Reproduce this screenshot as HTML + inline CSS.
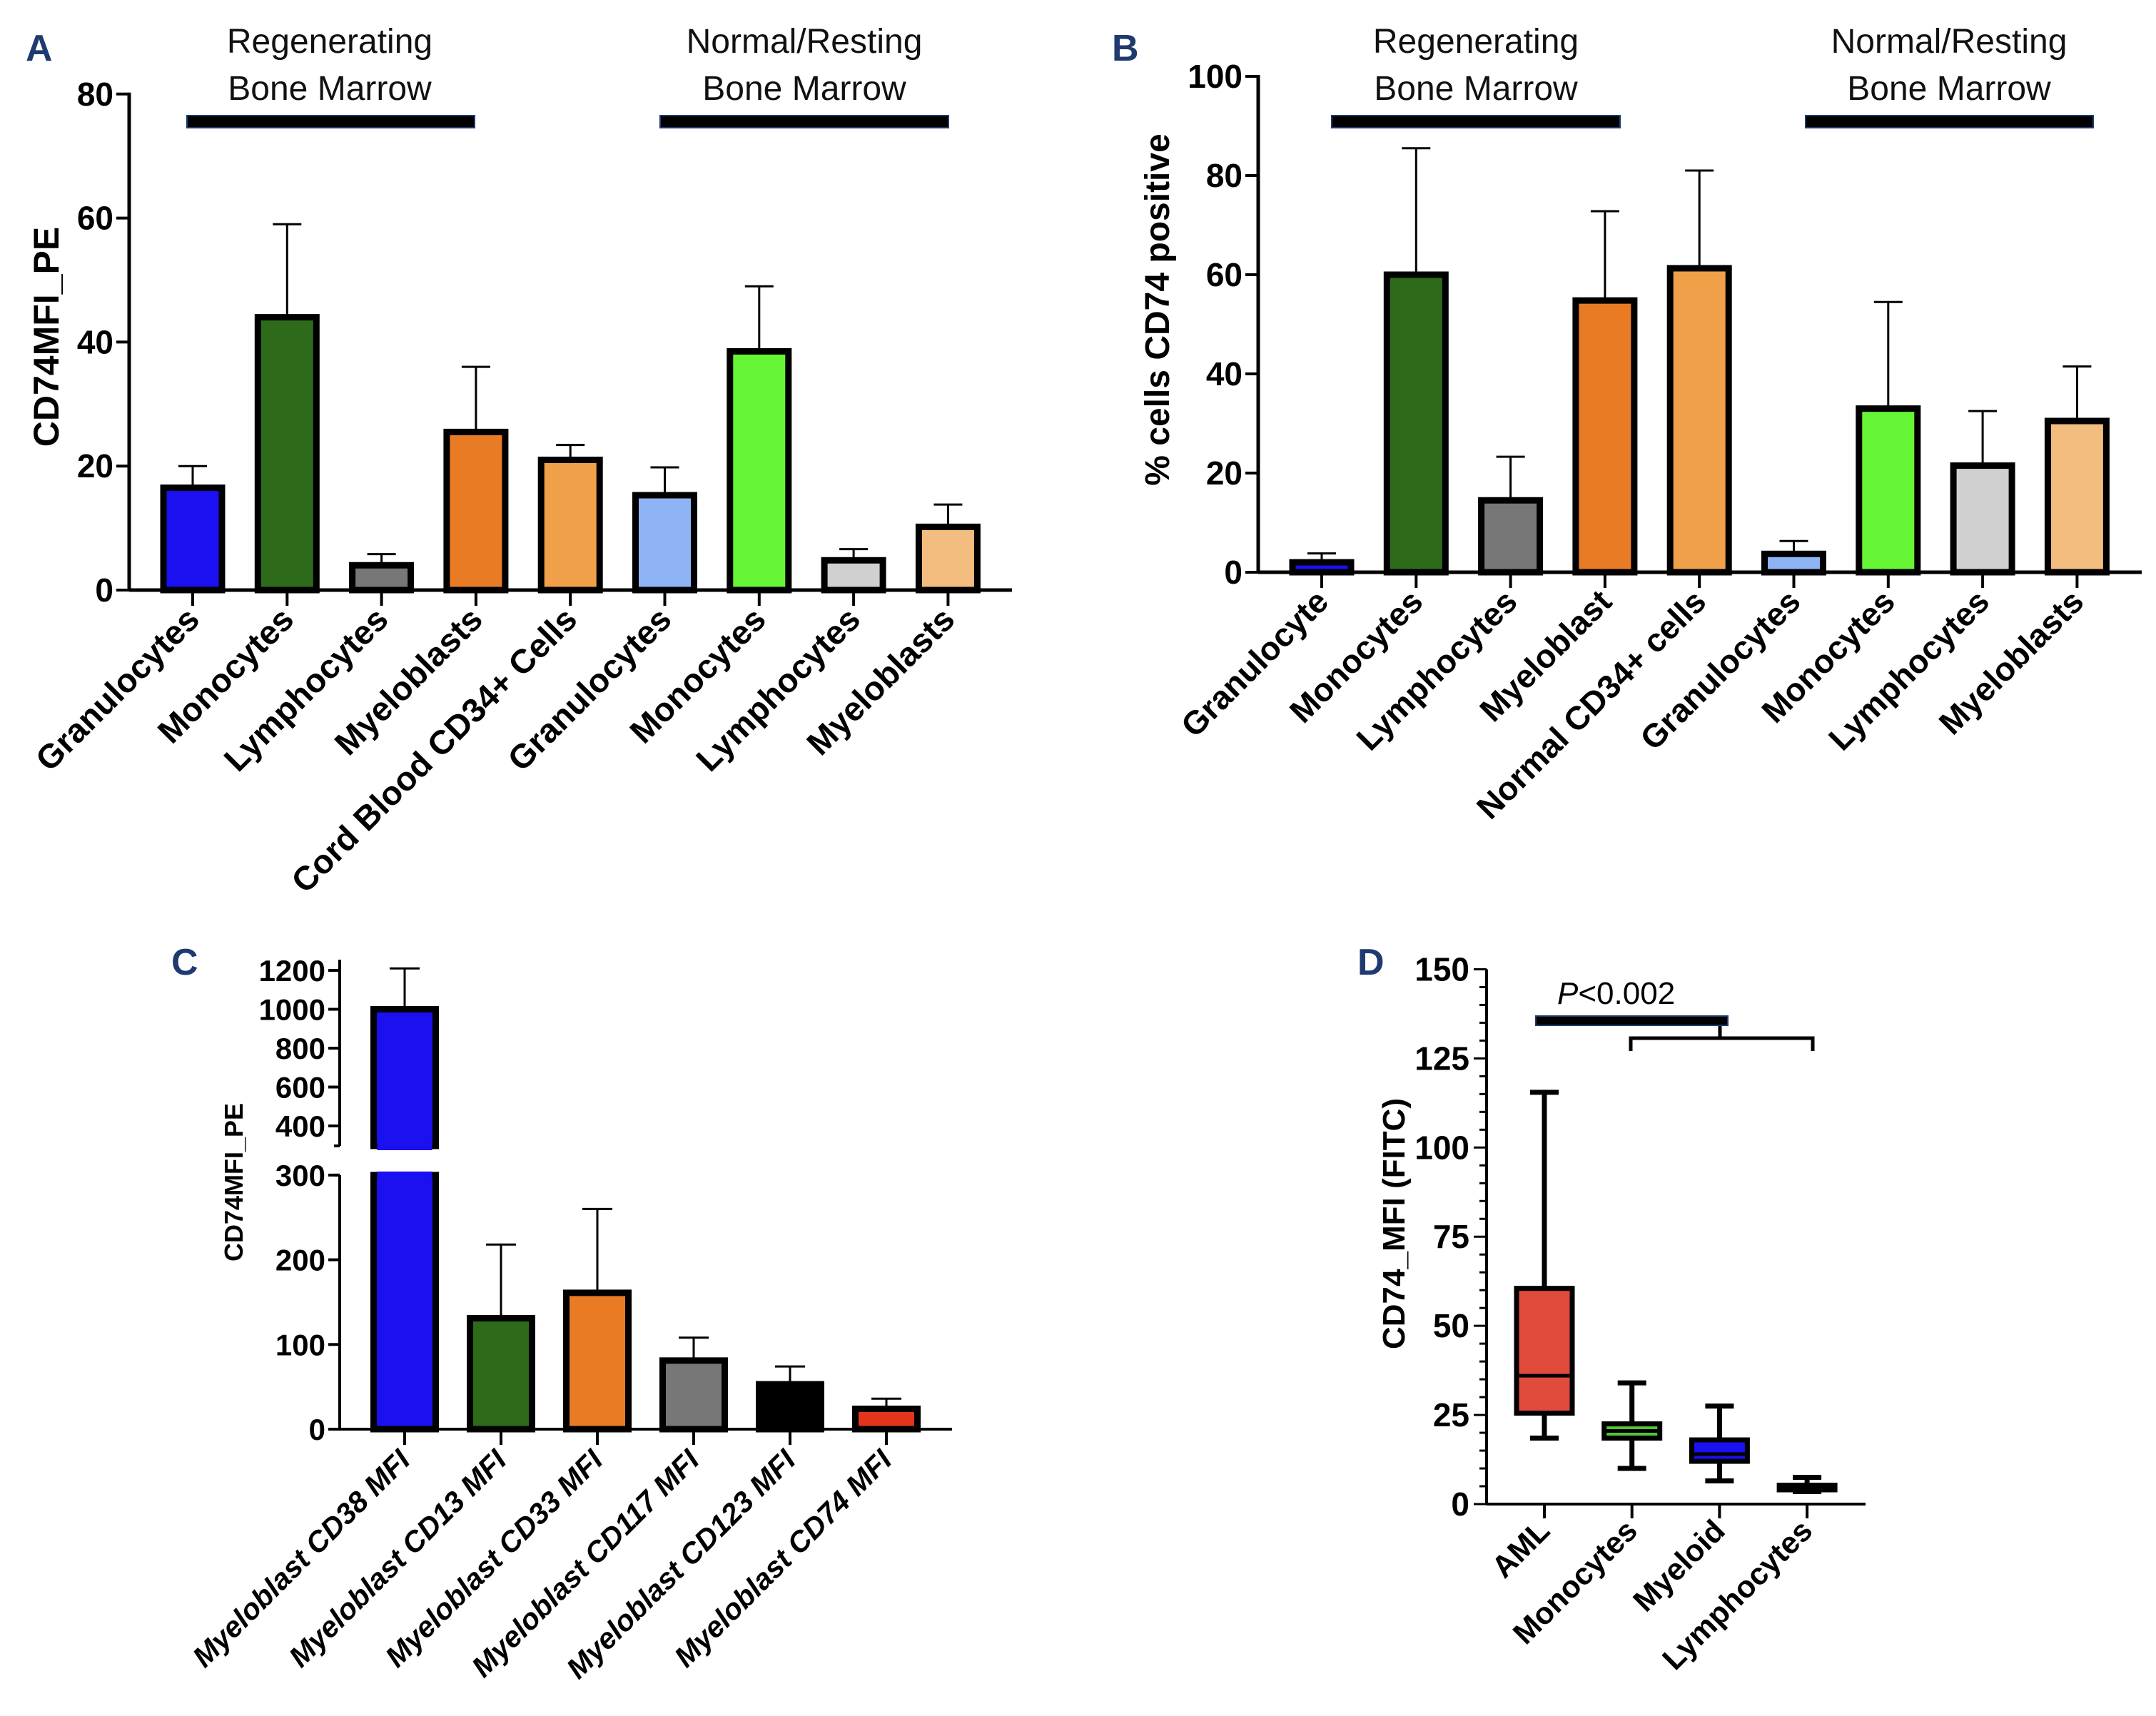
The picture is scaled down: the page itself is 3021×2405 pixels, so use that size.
<!DOCTYPE html>
<html><head><meta charset="utf-8"><style>
html,body{margin:0;padding:0;background:#fff;overflow:hidden}
svg{display:block}
text{font-family:"Liberation Sans",Arial,sans-serif}
</style></head><body>
<svg id="fig" width="3021" height="2405" viewBox="0 0 3021 2405" xmlns="http://www.w3.org/2000/svg"></svg>
<script>
// ---- Panel A data ----
const aCats=["Granulocytes","Monocytes","Lymphocytes","Myeloblasts","Cord Blood CD34+ Cells","Granulocytes","Monocytes","Lymphocytes","Myeloblasts"];
const aVals=[16.5,44,4,25.5,21,15.3,38.5,4.8,10.2];
const aErr=[20,59,5.8,36,23.4,19.8,49,6.6,13.8];
const aTicks=[0,20,40,60,80];
// ---- Panel B data ----
const bCats=["Granulocyte","Monocytes","Lymphocytes","Myeloblast","Normal CD34+ cells","Granulocytes","Monocytes","Lymphocytes","Myeloblasts"];
const bVals=[2,60,14.5,54.8,61.3,3.7,33,21.5,30.5];
const bErr=[3.8,85.5,23.3,72.8,81,6.3,54.5,32.5,41.5];
const bTicks=[0,20,40,60,80,100];
// ---- Panel C data ----
const cCats=["Myeloblast CD38 MFI","Myeloblast CD13 MFI","Myeloblast CD33 MFI","Myeloblast CD117 MFI","Myeloblast CD123 MFI","Myeloblast CD74 MFI"];
const cVals=[1000,131,161,81,53,24];
const cErr=[1210,218,260,108,74,36];
const cTicksLow=[0,100,200,300];
const cTicksHigh=[400,600,800,1000,1200];
// ---- Panel D data ----
const dCats=["AML","Monocytes","Myeloid","Lymphocytes"];
const dMin=[18.5,10,6.5,3.5];
const dQ1=[25.5,18.5,12,4];
const dMed=[36,20.5,14,4.7];
const dQ3=[60.5,22.5,18,5.3];
const dMax=[115.5,34,27.5,7.5];
const dTicks=[0,25,50,75,100,125,150];

const colors9=["#1a10f0","#2d6b1b","#777777","#e87b24","#f0a048","#8fb4f5","#66f535","#d0d0d0","#f2bd7e"];
const cColors=["#1a10f0","#2d6b1b","#e87b24","#777777","#000000","#e5341c"];
const dColors=["#e04b3c","#55c23a","#1a10f0","#000000"];

const NS="http://www.w3.org/2000/svg";
const svg=document.getElementById('fig');
function el(tag,attrs,parent,txt){const e=document.createElementNS(NS,tag);for(const k in attrs)e.setAttribute(k,attrs[k]);if(txt!==undefined)e.textContent=txt;(parent||svg).appendChild(e);return e;}
function grp(name){const g=el('g',{});return g;}

function panelLabel(t,x,y){const e=el('text',{x:x,y:y,'font-size':52,'font-weight':'bold',fill:'#1f3a70'},svg,t);}
function groupBar(g,text1,text2,x1,x2,y,cx,name){
  const b=el('rect',{x:x1,y:y,width:x2-x1,height:17,fill:'#000',stroke:'#1f3a70','stroke-width':2},g);
  
  const t1=el('text',{x:cx,y:74,'font-size':48,'text-anchor':'middle',fill:'#111'},g,text1);
  
  const t2=el('text',{x:cx,y:140,'font-size':48,'text-anchor':'middle',fill:'#111'},g,text2);
  
}

function barPanel(o){
  const g=grp(o.name);
  const y=v=>o.y0-(v-o.ymin)*o.pxPerUnit;
  const x=i=>o.x0c+i*o.step;
  el('line',{x1:o.ax,y1:o.y0,x2:o.ax,y2:y(o.ticks[o.ticks.length-1])-2,stroke:'#000','stroke-width':5},g);
  el('line',{x1:o.ax,y1:o.y0,x2:o.xend,y2:o.y0,stroke:'#000','stroke-width':5},g);
  o.ticks.forEach(t=>{
    el('line',{x1:o.ax-18,y1:y(t),x2:o.ax,y2:y(t),stroke:'#000','stroke-width':4},g);
    const tt=el('text',{x:o.ax-22,y:y(t)+16,'font-size':o.tfs,'font-weight':'bold','text-anchor':'end'},g,String(t));
    
  });
  const yt=el('text',{transform:`translate(${o.ytx},${o.yty}) rotate(-90)`,'font-size':o.ytfs,'font-weight':'bold','text-anchor':'middle'},g,o.ytitle);
  
  o.vals.forEach((v,i)=>{
    const cx=x(i),top=y(v),eb=y(o.err[i]);
    el('line',{x1:cx,y1:top,x2:cx,y2:eb,stroke:'#000','stroke-width':3},g);
    el('line',{x1:cx-20,y1:eb,x2:cx+20,y2:eb,stroke:'#000','stroke-width':3},g);
    const r=el('rect',{x:cx-o.bw/2,y:top,width:o.bw,height:o.y0-top,fill:o.colors[i],stroke:'#000','stroke-width':9},g);
    
    
    el('line',{x1:cx,y1:o.y0,x2:cx,y2:o.y0+22,stroke:'#000','stroke-width':4},g);
    const lt=el('text',{transform:`translate(${cx+12},${o.y0+44}) rotate(-45)`,'font-size':o.lfs,'font-weight':'bold','text-anchor':'end'},g,o.cats[i]);
    
  });
  return g;
}

// Panel A
panelLabel('A',36,85);
const gA=barPanel({name:'panel-a-chart',cats:aCats,vals:aVals,err:aErr,ticks:aTicks,colors:colors9,ax:181,y0:827,ymin:0,pxPerUnit:8.69,x0c:270,step:132.3,bw:82,xend:1418,tfs:46,ytitle:'CD74MFI_PE',ytx:82,yty:472,ytfs:50,lfs:47});
groupBar(gA,'Regenerating','Bone Marrow',262,665,162,462,'regenerating-group');
groupBar(gA,'Normal/Resting','Bone Marrow',925,1329,162,1127,'normal-group');

// Panel B
panelLabel('B',1558,85);
const gB=barPanel({name:'panel-b-chart',cats:bCats,vals:bVals,err:bErr,ticks:bTicks,colors:colors9,ax:1763,y0:802,ymin:0,pxPerUnit:6.95,x0c:1852,step:132.3,bw:82,xend:3001,tfs:46,ytitle:'% cells CD74 positive',ytx:1638,yty:434,ytfs:48,lfs:46});
groupBar(gB,'Regenerating','Bone Marrow',1866,2270,162,2068,'regenerating-group');
groupBar(gB,'Normal/Resting','Bone Marrow',2530,2933,162,2731,'normal-group');

// Panel C (broken axis)
panelLabel('C',240,1366);
(function(){
  const g=grp('panel-c-chart');
  const ax=476,y0=2003,xend=1334;
  const yLow=v=>y0-v*1.187;
  const yHigh=v=>1578-(v-400)*0.2725;
  const yBreakTop=1606,yBreakLow=yLow(300);
  const x=i=>567+i*135;
  el('line',{x1:ax,y1:y0,x2:ax,y2:yBreakLow,stroke:'#000','stroke-width':4},g);
  el('line',{x1:ax,y1:yBreakTop,x2:ax,y2:yHigh(1200)-15,stroke:'#000','stroke-width':4},g);
  el('line',{x1:ax-8,y1:yBreakTop,x2:ax,y2:yBreakTop,stroke:'#000','stroke-width':4},g);
  el('line',{x1:ax-8,y1:yBreakLow,x2:ax,y2:yBreakLow,stroke:'#000','stroke-width':4},g);
  el('line',{x1:ax,y1:y0,x2:xend,y2:y0,stroke:'#000','stroke-width':4},g);
  cTicksLow.forEach(t=>{el('line',{x1:ax-16,y1:yLow(t),x2:ax,y2:yLow(t),stroke:'#000','stroke-width':4},g);
    const tt=el('text',{x:ax-20,y:yLow(t)+15,'font-size':42,'font-weight':'bold','text-anchor':'end'},g,String(t));
    });
  cTicksHigh.forEach(t=>{el('line',{x1:ax-16,y1:yHigh(t),x2:ax,y2:yHigh(t),stroke:'#000','stroke-width':4},g);
    const tt=el('text',{x:ax-20,y:yHigh(t)+15,'font-size':42,'font-weight':'bold','text-anchor':'end'},g,String(t));
    });
  const yt=el('text',{transform:'translate(340,1657) rotate(-90)','font-size':36,'font-weight':'bold','text-anchor':'middle'},g,'CD74MFI_PE');
  
  const ymap=v=>v>300?(v>=400?yHigh(v):yBreakTop):yLow(v);
  cVals.forEach((v,i)=>{
    const cx=x(i),eb=ymap(cErr[i]),top=ymap(v),bw=87;
    el('line',{x1:cx,y1:top,x2:cx,y2:eb,stroke:'#000','stroke-width':3},g);
    el('line',{x1:cx-21,y1:eb,x2:cx+21,y2:eb,stroke:'#000','stroke-width':3},g);
    const name='bar-'+cCats[i].toLowerCase().replace(/[^a-z0-9]+/g,'-');
    if(v>300){
      const r1=el('rect',{x:cx-bw/2,y:top,width:bw,height:yBreakTop-top,fill:cColors[i],stroke:'#000','stroke-width':9},g);
      
      el('rect',{x:cx-bw/2+5,y:yBreakTop-6,width:bw-10,height:12,fill:cColors[i]},g);
      const r2=el('rect',{x:cx-bw/2,y:yBreakLow,width:bw,height:y0-yBreakLow,fill:cColors[i],stroke:'#000','stroke-width':9},g);
      
      el('rect',{x:cx-bw/2+5,y:yBreakLow-5,width:bw-10,height:10,fill:cColors[i]},g);
    } else {
      const r=el('rect',{x:cx-bw/2,y:top,width:bw,height:y0-top,fill:cColors[i],stroke:'#000','stroke-width':9},g);
      
    }
    el('line',{x1:cx,y1:y0,x2:cx,y2:y0+22,stroke:'#000','stroke-width':4},g);
    const lt=el('text',{transform:`translate(${cx+10},${y0+46}) rotate(-45)`,'font-size':41,'font-weight':'bold','font-style':'italic','text-anchor':'end'},g,cCats[i]);
    
  });
})();

// Panel D (box plot)
panelLabel('D',1902,1366);
(function(){
  const g=grp('panel-d-chart');
  const ax=2083,y0=2108,xend=2614;
  const y=v=>y0-v*4.997;
  const x=i=>2164+i*122.7;
  el('line',{x1:ax,y1:y0,x2:ax,y2:y(150),stroke:'#000','stroke-width':4},g);
  el('line',{x1:ax,y1:y0,x2:xend,y2:y0,stroke:'#000','stroke-width':4},g);
  for(let m=0;m<=150;m+=5){el('line',{x1:ax-(m%25?10:18),y1:y(m),x2:ax,y2:y(m),stroke:'#000','stroke-width':3},g);}
  dTicks.forEach(t=>{const tt=el('text',{x:ax-24,y:y(t)+16,'font-size':46,'font-weight':'bold','text-anchor':'end'},g,String(t));
    });
  const yt=el('text',{transform:'translate(1968,1715) rotate(-90)','font-size':44,'font-weight':'bold','text-anchor':'middle'},g,'CD74_MFI (FITC)');
  
  dCats.forEach((c,i)=>{
    const cx=x(i),bw=78;
    el('line',{x1:cx,y1:y(dMin[i]),x2:cx,y2:y(dMax[i]),stroke:'#000','stroke-width':7},g);
    el('line',{x1:cx-20,y1:y(dMax[i]),x2:cx+20,y2:y(dMax[i]),stroke:'#000','stroke-width':7},g);
    el('line',{x1:cx-20,y1:y(dMin[i]),x2:cx+20,y2:y(dMin[i]),stroke:'#000','stroke-width':7},g);
    const b=el('rect',{x:cx-bw/2,y:y(dQ3[i]),width:bw,height:y(dQ1[i])-y(dQ3[i]),fill:dColors[i],stroke:'#000','stroke-width':7},g);
    
    el('line',{x1:cx-bw/2,y1:y(dMed[i]),x2:cx+bw/2,y2:y(dMed[i]),stroke:'#000','stroke-width':5},g);
    el('line',{x1:cx,y1:y0,x2:cx,y2:y0+20,stroke:'#000','stroke-width':4},g);
    const lt=el('text',{transform:`translate(${cx+10},${y0+40}) rotate(-45)`,'font-size':43,'font-weight':'bold','text-anchor':'end'},g,c);
    
  });
  const sb=el('rect',{x:2152,y:1424,width:269,height:13,fill:'#000',stroke:'#1f3a70','stroke-width':2},g);
  
  const br=el('path',{d:'M2285,1473 L2285,1455 L2540,1455 L2540,1473 M2410,1455 L2410,1438',fill:'none',stroke:'#000','stroke-width':5},g);
  
  const pt=el('text',{x:2182,y:1407,'font-size':44},g);
  
  el('tspan',{'font-style':'italic'},pt,'P');
  el('tspan',{},pt,'<0.002');
})();
</script>
</body></html>
